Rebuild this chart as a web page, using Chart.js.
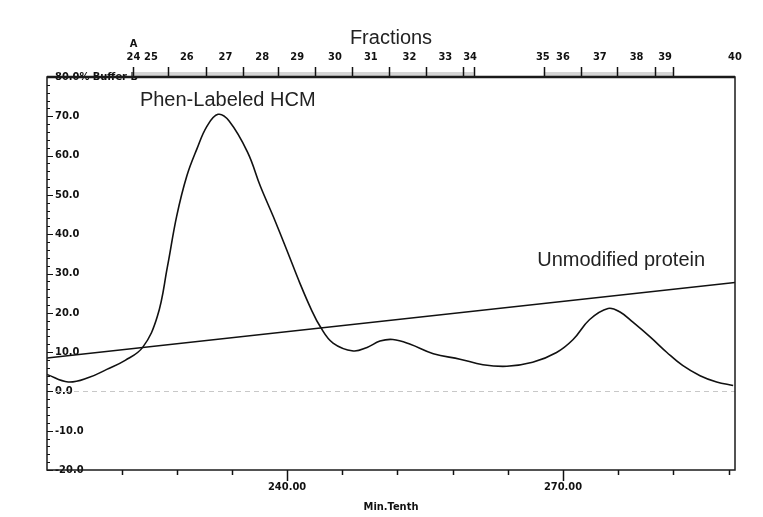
<!DOCTYPE html>
<html>
<head>
<meta charset="utf-8">
<script src="https://cdn.jsdelivr.net/npm/chart.js@4.4.1/dist/chart.umd.min.js"></script>
<style>
  body { margin: 0; background: #fff; }
  #chart { display: block; }
</style>
</head>
<body>
<canvas id="chart" width="763" height="517"></canvas>
<script>
// chromatogram trace (Min.Tenth vs absorbance)
const timeMin = [213.9, 216.2, 218.5, 220.4, 222.4, 224.3, 225.9, 227.0, 228.0, 229.1, 230.2, 231.3,
  232.5, 233.7, 235.7, 237.1, 238.5, 240.0, 241.4, 242.6, 243.6, 245.0, 247.2, 248.7, 250.1,
  251.5, 253.4, 255.9, 258.8, 261.3, 263.9, 266.7, 269.3, 271.1, 272.9, 274.9, 276.2, 277.6, 279.5,
  281.3, 283.0, 284.9, 286.7, 288.5];
const absorbance = [4.3, 2.4, 3.6, 5.6, 7.9, 11.2, 19.1, 31.8, 44.6, 54.8, 61.7, 67.5,
  70.5, 68.8, 60.9, 52.2, 44.5, 35.8, 27.5, 21.0, 16.5, 12.3, 10.3, 11.2, 12.8,
  13.2, 12.0, 9.6, 8.2, 6.8, 6.4, 7.4, 9.9, 13.2, 18.3, 21.1, 20.2, 17.6, 13.8,
  9.9, 6.6, 4.0, 2.4, 1.5];

// % Buffer B gradient
const bufferTime = [213.9, 288.7];
const bufferPct = [8.5, 27.7];

// axes
const xMin = 213.9, xMax = 288.7;
const xTicks = [222, 228, 234, 240, 246, 252, 258, 264, 270, 276, 282, 288];
const xMajor = [240, 270];
const yTicks = [];
for (let v = -20; v <= 80; v += 2) yTicks.push(v);

// fractions
const fractionNames = ['24', '25', '26', '27', '28', '29', '30', '31', '32', '33', '34', '35', '36', '37', '38', '39', '40'];
const fractionLabelPos = [223.3, 225.2, 229.1, 233.3, 237.3, 241.1, 245.2, 249.1, 253.3, 257.2, 259.9,
  267.8, 270.0, 274.0, 278.0, 281.1, 288.7];
const fractionMarks = [223.2, 227.1, 231.2, 235.2, 239.0, 243.0, 247.1, 251.1, 255.1, 259.1, 260.3,
  267.9, 272.0, 275.9, 280.0, 282.0];
const fractionBands = [[223.2, 260.3], [267.9, 282.0]];

// annotations [text, x, y]
const notes = [
  ['Phen-Labeled HCM', 224.0, 74.1],
  ['Unmodified protein', 267.2, 33.4]
];

const smallFont = { family: "'Liberation Sans Narrow', 'DejaVu Sans Condensed', sans-serif", size: 11, weight: 'bold' };

const decorPlugin = {
  id: 'decor',
  beforeDatasetsDraw(chart) {
    const ctx = chart.ctx;
    const area = chart.chartArea;
    const y0 = chart.scales.y.getPixelForValue(0);
    ctx.save();
    ctx.strokeStyle = '#c8c8c8';
    ctx.lineWidth = 1;
    ctx.setLineDash([5, 4]);
    ctx.beginPath();
    ctx.moveTo(area.left, Math.round(y0) + 0.5);
    ctx.lineTo(area.right, Math.round(y0) + 0.5);
    ctx.stroke();
    ctx.restore();
  },
  afterDraw(chart) {
    const ctx = chart.ctx;
    const area = chart.chartArea;
    const xs = chart.scales.x;
    const ys = chart.scales.y;
    ctx.save();

    // fraction band above the plot
    ctx.fillStyle = '#d4d4d4';
    fractionBands.forEach(b => {
      const a = xs.getPixelForValue(b[0]);
      const c = xs.getPixelForValue(b[1]);
      ctx.fillRect(a, area.top - 5, c - a, 5);
    });
    ctx.strokeStyle = '#111';
    ctx.lineWidth = 1.5;
    fractionMarks.forEach(v => {
      const px = Math.round(xs.getPixelForValue(v)) + 0.5;
      ctx.beginPath();
      ctx.moveTo(px, area.top - 10);
      ctx.lineTo(px, area.top);
      ctx.stroke();
    });

    // y ticks (inward)
    ctx.lineWidth = 1;
    yTicks.forEach(v => {
      const py = Math.round(ys.getPixelForValue(v)) + 0.5;
      const len = v % 10 === 0 ? 6 : 3;
      ctx.beginPath();
      ctx.moveTo(area.left, py);
      ctx.lineTo(area.left + len, py);
      ctx.stroke();
    });

    // x ticks (outward)
    ctx.lineWidth = 1.5;
    xTicks.forEach(v => {
      const px = Math.round(xs.getPixelForValue(v)) + 0.5;
      const len = xMajor.includes(v) ? 11 : 5;
      ctx.beginPath();
      ctx.moveTo(px, area.bottom);
      ctx.lineTo(px, area.bottom + len);
      ctx.stroke();
    });

    // frame
    ctx.strokeStyle = '#1a1a1a';
    ctx.lineWidth = 1.5;
    ctx.strokeRect(area.left, area.top, area.right - area.left, area.bottom - area.top);
    ctx.lineWidth = 2.5;
    ctx.beginPath();
    ctx.moveTo(area.left, area.top);
    ctx.lineTo(area.right, area.top);
    ctx.stroke();

    // annotations
    ctx.fillStyle = '#222';
    ctx.font = "20px 'Liberation Sans', Arial, sans-serif";
    ctx.textBaseline = 'middle';
    ctx.textAlign = 'left';
    notes.forEach(n => {
      ctx.fillText(n[0], xs.getPixelForValue(n[1]), ys.getPixelForValue(n[2]));
    });
    ctx.restore();
  }
};

new Chart(document.getElementById('chart'), {
  type: 'line',
  data: {
    datasets: [
      {
        label: 'UV',
        data: timeMin.map((t, i) => ({ x: t, y: absorbance[i] })),
        borderColor: '#111',
        borderWidth: 1.6,
        pointRadius: 0,
        tension: 0.4,
        fill: false
      },
      {
        label: '% Buffer B',
        data: bufferTime.map((t, i) => ({ x: t, y: bufferPct[i] })),
        borderColor: '#111',
        borderWidth: 1.6,
        pointRadius: 0,
        fill: false
      }
    ]
  },
  options: {
    responsive: false,
    animation: false,
    layout: { padding: { left: 0, right: 28, top: 0, bottom: 0 } },
    plugins: {
      legend: { display: false },
      tooltip: { enabled: false }
    },
    scales: {
      x: {
        type: 'linear',
        position: 'bottom',
        min: xMin,
        max: xMax,
        afterBuildTicks: s => { s.ticks = xTicks.map(v => ({ value: v })); },
        afterFit: s => { s.height = 47; },
        grid: { display: false, drawTicks: false },
        border: { display: false },
        ticks: {
          autoSkip: false,
          maxRotation: 0,
          padding: 11,
          color: '#111',
          font: smallFont,
          callback: v => xMajor.includes(v) ? v.toFixed(2) : ''
        },
        title: {
          display: true,
          text: 'Min.Tenth',
          color: '#111',
          font: smallFont,
          padding: { top: 0, bottom: 3 }
        }
      },
      x2: {
        type: 'linear',
        position: 'top',
        min: xMin,
        max: xMax,
        afterBuildTicks: s => { s.ticks = fractionLabelPos.map(v => ({ value: v })); },
        afterFit: s => { s.height = 77; },
        grid: { display: false, drawTicks: false },
        border: { display: false },
        ticks: {
          autoSkip: false,
          maxRotation: 0,
          padding: 13,
          color: '#111',
          font: smallFont,
          callback: (v, i) => i === 0 ? ['A', fractionNames[i]] : fractionNames[i]
        },
        title: {
          display: true,
          text: 'Fractions',
          color: '#222',
          font: { family: "'Liberation Sans', Arial, sans-serif", size: 20 },
          padding: { top: 26, bottom: 0 }
        }
      },
      y: {
        min: -20,
        max: 80,
        afterBuildTicks: s => { s.ticks = yTicks.map(v => ({ value: v })); },
        afterFit: s => { s.width = 47; },
        grid: { display: false, drawTicks: false },
        border: { display: false },
        ticks: {
          autoSkip: false,
          mirror: true,
          padding: 8,
          color: '#111',
          font: smallFont,
          callback: v => v % 10 !== 0 ? '' : (v === 80 ? '80.0% Buffer B' : v.toFixed(1))
        }
      }
    }
  },
  plugins: [decorPlugin]
});
</script>
</body>
</html>
